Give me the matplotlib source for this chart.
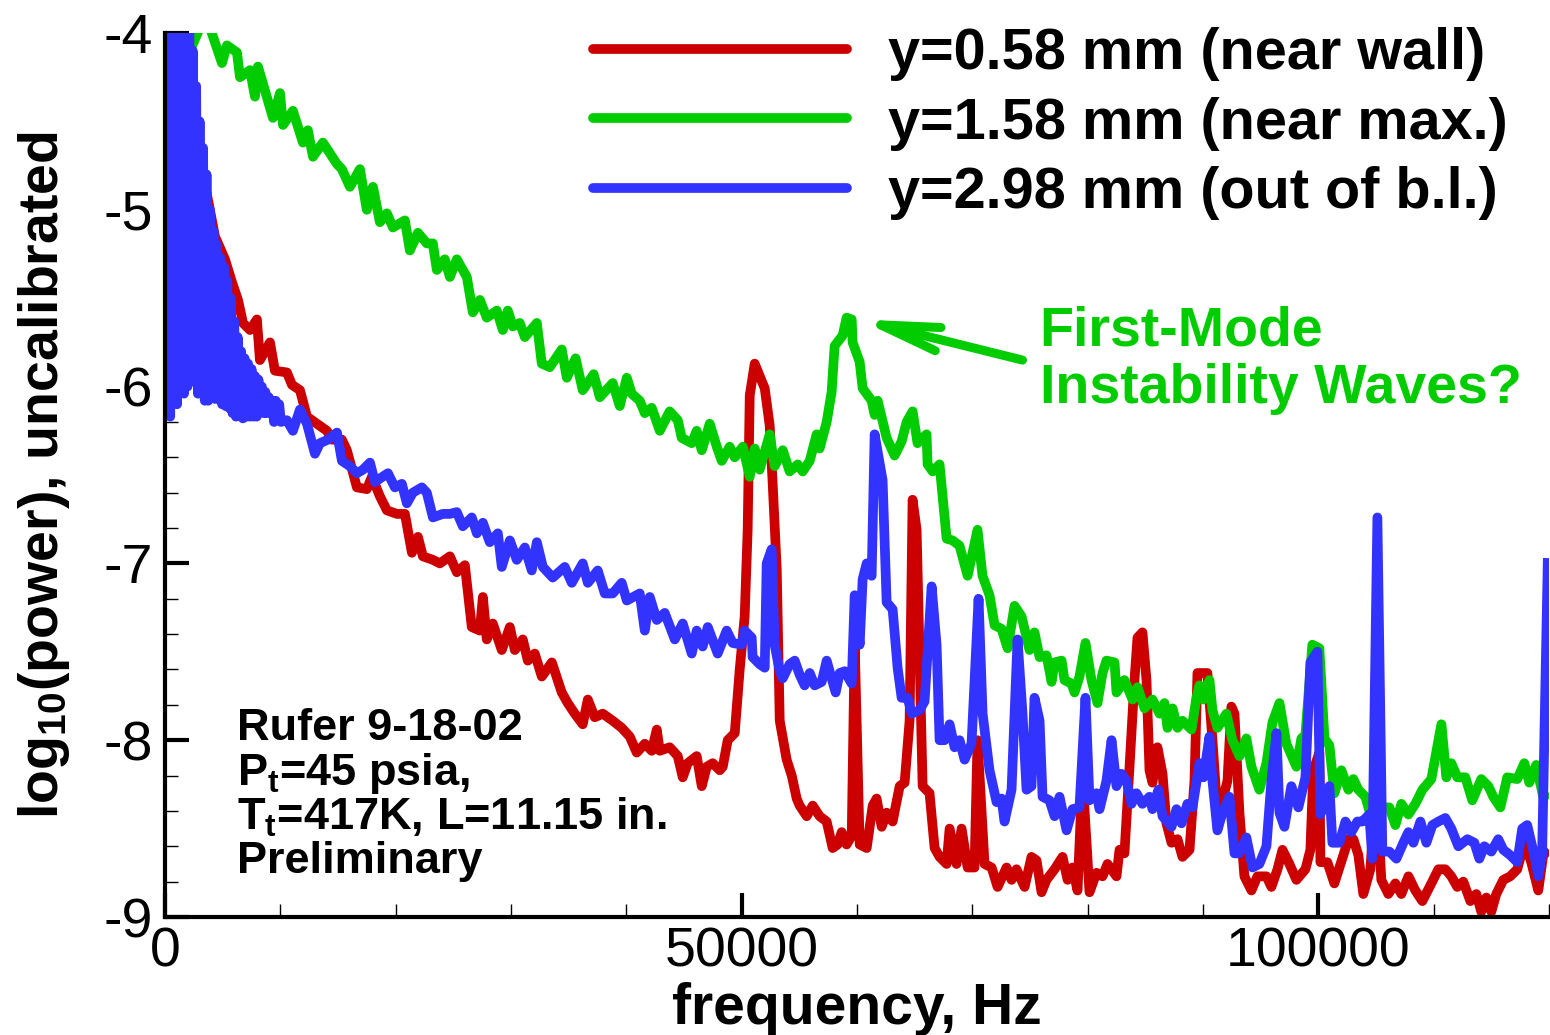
import matplotlib
matplotlib.use("Agg")
import matplotlib.pyplot as plt
from matplotlib.lines import Line2D
from matplotlib.ticker import MultipleLocator

plt.rcParams['font.family'] = ['Liberation Sans', 'DejaVu Sans']
plt.rcParams['axes.unicode_minus'] = False
plt.rcParams['mathtext.fontset'] = 'custom'
plt.rcParams['mathtext.bf'] = 'Liberation Sans:bold'
plt.rcParams['mathtext.rm'] = 'Liberation Sans:bold'
plt.rcParams['mathtext.default'] = 'bf'
plt.rcParams['path.simplify'] = False

RED = '#CC0000'
GREEN = '#00CC00'
BLUE = '#3333FF'

labels = ["y=0.58 mm (near wall)", "y=1.58 mm (near max.)", "y=2.98 mm (out of b.l.)"]

# ---- y = 0.58 mm (red) ----
red_f = [0, 600, 1200, 1800, 2400, 3000, 3600, 4330, 5200, 5810, 6330, 6760, 7370, 7970, 8230,
         9100, 9530, 10570, 11010, 11700, 12310, 13170, 14040, 14470, 15340, 15770, 16640, 17500,
         17940, 18630, 19240, 20110, 20800, 21410, 21930, 22360, 23230, 23830, 24700, 25300, 26000,
         26600, 27300, 27560, 27900, 28420, 29200, 29900, 30330, 31020, 31460, 32060, 32670, 33540,
         34400, 34920, 35530, 36220, 36660, 37260, 37960, 38820, 39600, 40300, 40900, 41600, 42200,
         42640, 42900, 43760, 44460, 44890, 45320, 46100, 46540, 46970, 47490, 48100, 48360, 48790,
         49400, 49830, 50260, 50520, 50700, 51130, 51560, 52000, 52430, 52690, 53040, 53300, 53900,
         54340, 54770, 55030, 55640, 56160, 56760, 57370, 57890, 58320, 58670, 59100, 59540, 59800,
         60230, 60840, 61360, 61700, 62140, 62570, 63090, 63700, 64130, 64560, 64820, 65170, 65690,
         66290, 66730, 67160, 67770, 68030, 68630, 69070, 69590, 70190, 70450, 71060, 71670, 72190,
         72970, 73400, 73830, 74530, 75130, 75570, 76000, 76430, 77130, 77820, 78260, 78690, 79120,
         79550, 80160, 80770, 81290, 81720, 82500, 82760, 83190, 83630, 84060, 84320, 84750, 85100,
         85360, 85620, 86050, 86490, 86830, 87270, 87790, 88220, 88830, 89260, 89520, 89950, 90380,
         90820, 91250, 91690, 92120, 92460, 92730, 93160, 93590, 94200, 94720, 95500, 95930, 96460,
         96890, 97490, 98100, 98880, 99310, 99570, 100090, 100180, 100780, 101390, 102170, 102610,
         103040, 103470, 103900, 104510, 105030, 105460, 106070, 106680, 107200, 107810, 108410,
         109020, 109800, 110410, 111010, 111530, 112050, 112570, 113180, 113700, 114130, 114570,
         115000, 115430, 116040, 116640, 117250, 117860, 118460, 119070, 119500, 120000]
red_v = [-4.4, -4.9, -4.6, -5.0, -4.7, -5.05, -4.9, -5.15, -5.28, -5.41, -5.51, -5.64, -5.68, -5.62, -5.85,
         -5.75, -5.91, -5.92, -5.99, -6.02, -6.17, -6.21, -6.25, -6.30, -6.30, -6.36, -6.57, -6.58,
         -6.51, -6.62, -6.70, -6.72, -6.72, -6.94, -6.85, -6.96, -6.98, -7.00, -6.96, -7.05, -7.01,
         -7.36, -7.38, -7.19, -7.43, -7.34, -7.49, -7.36, -7.49, -7.43, -7.55, -7.51, -7.64, -7.56,
         -7.73, -7.79, -7.85, -7.91, -7.77, -7.87, -7.85, -7.89, -7.93, -7.98, -8.07, -8.02, -8.06,
         -7.94, -8.06, -8.04, -8.09, -8.21, -8.13, -8.09, -8.26, -8.15, -8.13, -8.17, -8.15, -8.00,
         -7.96, -7.60, -7.30, -6.81, -6.05, -5.87, -5.94, -6.01, -6.22, -6.55, -7.03, -7.89, -8.11,
         -8.20, -8.33, -8.37, -8.43, -8.37, -8.43, -8.46, -8.61, -8.59, -8.52, -8.59, -8.54, -7.45,
         -8.59, -8.61, -8.37, -8.33, -8.49, -8.41, -8.46, -8.26, -8.24, -7.89, -6.64, -6.81, -8.26,
         -8.30, -8.61, -8.66, -8.70, -8.50, -8.70, -8.50, -8.72, -8.72, -8.00, -8.70, -8.72, -8.83,
         -8.72, -8.79, -8.73, -8.83, -8.66, -8.68, -8.86, -8.79, -8.73, -8.66, -8.79, -8.72, -8.85,
         -8.20, -8.86, -8.75, -8.77, -8.70, -8.77, -8.62, -8.64, -8.15, -7.66, -7.42, -7.39, -7.66,
         -8.17, -8.24, -8.04, -8.19, -8.47, -8.58, -8.56, -8.66, -8.62, -8.23, -7.62, -7.62, -7.62,
         -8.00, -8.41, -8.34, -8.23, -7.81, -7.85, -8.41, -8.77, -8.85, -8.77, -8.77, -8.83, -8.73,
         -8.62, -8.70, -8.79, -8.73, -8.62, -8.17, -8.07, -8.69, -8.69, -8.81, -8.65, -8.56,
         -8.56, -8.65, -8.87, -8.73, -8.24, -8.79, -8.87, -8.81, -8.87, -8.77, -8.85,
         -8.91, -8.81, -8.73, -8.73, -8.77, -8.83, -8.80, -8.91, -8.87, -8.97, -8.89,
         -8.97, -8.87, -8.79, -8.77, -8.73, -8.58, -8.69, -8.85, -8.65, -8.62]

# ---- y = 1.58 mm (green) ----
green_f = [0, 800, 1500, 2170, 2700, 3030, 3900, 4940, 5370, 6240, 6500, 7370, 7800, 8060, 9360, 9970,
           10230, 11090, 11960, 12390, 12830, 13690, 14900, 15340, 16030, 16900, 17500, 18030, 18630,
           19240, 19760, 20800, 21230, 21930, 22700, 23220, 23570, 24260, 24700, 25300, 26170, 26690,
           27300, 27900, 28770, 29290, 29720, 30160, 30760, 31200, 32240, 32670, 33360, 34400, 34840,
           35600, 36220, 37170, 37700, 38820, 39430, 40040, 40470, 41160, 41600, 42200, 42900, 43760,
           44460, 44800, 45670, 46100, 46540, 47230, 47840, 48270, 48960, 49400, 50100, 50700, 51130,
           51560, 52430, 52860, 53560, 54160, 54860, 55290, 55900, 56500, 56760, 57370, 57800, 58060,
           58760, 59100, 59540, 59620, 60230, 60490, 61270, 61530, 61790, 62570, 63260, 63870, 64300,
           64820, 65250, 66030, 66120, 66560, 67160, 67770, 68290, 68890, 69590, 70450, 70880, 71490,
           71930, 72530, 73060, 73660, 74270, 74960, 75390, 75830, 76430, 76870, 77130, 77740, 77990,
           78600, 78860, 79290, 79810, 80330, 80850, 81290, 81630, 82330, 82500, 83190, 83890, 84320,
           84930, 85620, 86230, 86660, 86920, 87360, 87790, 88220, 89000, 89430, 89690, 90040, 90560,
           90820, 91250, 92030, 92550, 93160, 93760, 94200, 94890, 95500, 96020, 96630, 97230, 98100,
           98530, 98880, 99480, 100090, 100530, 100960, 101390, 102000, 102610, 103040, 103470,
           104080, 104510, 105290, 106160, 106680, 107200, 107810, 108410, 109020, 109800, 110670,
           111100, 111530, 112050, 112750, 113350, 114130, 114740, 115170, 115780, 116380, 117250,
           117860, 118290, 118890, 119500, 120000]
green_v = [-4.35, -4.25, -4.2, -4.10, -4.02, -3.97, -3.97, -4.17, -4.07, -4.11, -4.25, -4.21, -4.36, -4.19,
           -4.48, -4.34, -4.52, -4.44, -4.62, -4.55, -4.70, -4.62, -4.74, -4.77, -4.87, -4.77, -5.00,
           -4.87, -5.07, -5.02, -5.10, -5.06, -5.23, -5.13, -5.19, -5.19, -5.34, -5.28, -5.38, -5.28,
           -5.38, -5.58, -5.51, -5.61, -5.57, -5.68, -5.57, -5.66, -5.64, -5.72, -5.64, -5.87, -5.89,
           -5.79, -5.95, -5.84, -6.02, -5.93, -6.06, -5.98, -6.11, -5.95, -6.04, -6.08, -6.15, -6.12,
           -6.25, -6.14, -6.19, -6.29, -6.32, -6.25, -6.36, -6.21, -6.34, -6.42, -6.34, -6.40, -6.34,
           -6.51, -6.35, -6.47, -6.27, -6.45, -6.36, -6.48, -6.44, -6.48, -6.42, -6.27, -6.35, -6.20,
           -6.03, -5.77, -5.71, -5.61, -5.62, -5.75, -5.86, -6.01, -6.08, -6.16, -6.08, -6.29, -6.39,
           -6.31, -6.20, -6.14, -6.32, -6.27, -6.44, -6.48, -6.44, -6.86, -6.87, -6.90, -7.07, -6.81,
           -7.07, -7.18, -7.35, -7.37, -7.48, -7.24, -7.30, -7.49, -7.39, -7.53, -7.52, -7.67, -7.56,
           -7.55, -7.66, -7.68, -7.73, -7.64, -7.45, -7.66, -7.79, -7.62, -7.55, -7.56, -7.73, -7.66,
           -7.77, -7.70, -7.82, -7.77, -7.85, -7.79, -7.93, -7.82, -7.93, -7.89, -7.94, -7.76, -7.69,
           -7.77, -7.66, -7.83, -7.93, -7.85, -8.00, -8.09, -7.99, -8.15, -8.28, -8.13, -7.90, -7.79,
           -8.02, -8.15, -7.99, -7.97, -7.46, -7.48, -7.99, -8.03, -8.30, -8.17, -8.28, -8.22, -8.28,
           -8.32, -8.42, -8.38, -8.38, -8.48, -8.36, -8.42, -8.36, -8.28, -8.22, -7.91, -8.21, -8.13,
           -8.21, -8.21, -8.34, -8.22, -8.26, -8.32, -8.38, -8.21, -8.22, -8.13, -8.24, -8.14, -8.32,
           -8.30]

# ---- y = 2.98 mm (blue) ----
blue_f = [0, 150, 300, 450, 600, 750, 900, 1050, 1200, 1350, 1500, 1650, 1800, 1950, 2100, 2250,
          2400, 2550, 2700, 2850, 3000, 3150, 3300, 3450, 3600, 3750, 3900, 4050, 4200, 4350, 4500,
          4650, 4800, 4950, 5100, 5250, 5400, 5550, 5700, 5850, 6000, 6150, 6300, 6450, 6600, 6750,
          6900, 7050, 7200, 7350, 7500, 7650, 7800, 7950, 8100, 8250, 8400, 8550, 8700, 8850, 9000,
          9150, 9300, 9450, 9600, 9750, 9900, 10050,
          10570, 11090, 11700, 12310, 13000, 13430, 14130, 14910, 15340,
          16030, 16640, 17160, 17770, 18200, 18630, 19330, 19930, 20540, 20970, 21490, 22270, 22700,
          23230, 24090, 24700, 25300, 25820, 26600, 27040, 27560, 28160, 28860, 29200, 29900, 30500,
          31200, 31800, 32240, 32760, 33620, 34660, 35270, 36220, 36660, 37520, 38130, 38820, 39600,
          40040, 41160, 41600, 42030, 42640, 43330, 44200, 44890, 45670, 46100, 46620, 47060, 47920,
          48700, 49220, 50000, 50260, 50870, 50950, 51560, 52000, 52170, 52600, 52860, 53300, 53560,
          54160, 54600, 55030, 55460, 55900, 56330, 56940, 57370, 57800, 58150, 58500, 58930, 59540,
          59800, 60230, 60490, 60840, 61270, 61530, 62220, 62570, 63090, 63520, 63870, 64390, 64740,
          65430, 65860, 66470, 66900, 67160, 67590, 68030, 68460, 68890, 69330, 69930, 70540, 70890,
          71490, 72100, 72530, 72790, 73400, 73920, 74350, 74700, 75130, 75390, 75830, 76090, 76690,
          77130, 77560, 78170, 78690, 79290, 79810, 80160, 80770, 81030, 81630, 82070, 82500, 82930,
          83370, 83800, 84230, 84750, 85360, 85620, 86140, 86490, 87270, 87700, 88140, 88650, 89090,
          89690, 90040, 90560, 90820, 91250, 91690, 92290, 92730, 93160, 93760, 94290, 94890, 95500,
          95930, 96370, 96630, 97060, 97660, 98270, 98880, 99310, 99920, 100180, 100960, 101220,
          101830, 102350, 102870, 103380, 103820, 104420, 104680, 105120, 105550, 106160, 106770,
          107370, 107810, 108240, 108850, 109370, 109890, 110410, 111010, 111530, 112140, 112920,
          113530, 113960, 114390, 115000, 115600, 116040, 116640, 117250, 117680, 118110, 118720,
          119070, 119400, 119900]
blue_v = [-3.8, -6.10, -3.8, -6.17, -3.8, -6.08, -3.8, -6.10, -3.8, -6.00, -3.8, -6.04, -3.8, -6.00,
          -3.8, -5.97, -4.10, -5.96, -4.30, -6.04, -4.50, -6.04, -4.65, -6.08, -4.80, -6.08, -5.00,
          -6.06, -5.12, -6.07, -5.20, -6.07, -5.27, -6.10, -5.32, -6.11, -5.40, -6.12, -5.50, -6.15,
          -5.63, -6.17, -5.72, -6.14, -5.80, -6.18, -5.84, -6.17, -5.87, -6.17, -5.90, -6.17, -5.94,
          -6.17, -5.96, -6.12, -6.00, -6.15, -6.03, -6.15, -6.06, -6.12, -6.08, -6.20, -6.08, -6.18,
          -6.10, -6.20,
          -6.19, -6.25, -6.13, -6.21, -6.38, -6.32, -6.30, -6.26, -6.42, -6.45, -6.49, -6.47, -6.43,
          -6.54, -6.52, -6.49, -6.57, -6.55, -6.66, -6.60, -6.57, -6.60, -6.74, -6.72, -6.72, -6.71,
          -6.79, -6.74, -6.83, -6.77, -6.88, -6.83, -7.02, -6.87, -6.98, -6.91, -7.04, -6.88, -7.02,
          -7.08, -7.02, -7.11, -7.00, -7.11, -7.04, -7.17, -7.17, -7.11, -7.21, -7.17, -7.38, -7.19,
          -7.32, -7.28, -7.43, -7.34, -7.51, -7.38, -7.47, -7.36, -7.51, -7.38, -7.45, -7.46, -7.38,
          -7.42, -7.53, -7.57, -7.59, -7.00, -6.92, -7.46, -7.61, -7.65, -7.57, -7.55, -7.63, -7.69,
          -7.62, -7.69, -7.67, -7.55, -7.65, -7.73, -7.62, -7.61, -7.68, -7.18, -7.46, -7.09, -7.00,
          -7.07, -6.27, -6.53, -7.22, -7.26, -7.59, -7.76, -7.76, -7.85, -7.83, -7.78, -7.13, -7.46,
          -8.00, -8.00, -7.91, -8.04, -8.00, -8.11, -8.02, -7.20, -7.85, -8.17, -8.35, -8.33, -8.46,
          -8.28, -7.43, -7.85, -8.28, -8.26, -7.76, -7.89, -8.32, -8.34, -8.43, -8.32, -8.51, -8.39,
          -8.38, -7.76, -8.34, -8.30, -8.39, -8.23, -8.00, -8.26, -8.19, -8.23, -8.36, -8.30, -8.36,
          -8.32, -8.39, -8.28, -8.43, -8.49, -8.39, -8.47, -8.36, -8.38, -8.13, -8.21, -7.98, -8.23,
          -8.51, -8.41, -8.32, -8.64, -8.64, -8.55, -8.72, -8.70, -8.60, -8.23, -7.96, -8.41, -8.49,
          -8.26, -8.38, -8.21, -7.56, -7.50, -8.42, -8.26, -8.58, -8.58, -8.46, -8.52, -8.46, -8.46,
          -8.42, -8.67, -6.74, -8.63, -8.63, -8.67, -8.58, -8.52, -8.58, -8.46, -8.58, -8.48, -8.46,
          -8.44, -8.50, -8.60, -8.56, -8.58, -8.67, -8.60, -8.63, -8.56, -8.62, -8.65, -8.69, -8.50,
          -8.48, -8.65, -8.77, -8.65, -6.97]

x_ticks = [0, 50000, 100000]
x_ticklabels = ["0", "50000", "100000"]
y_ticks = [-9, -8, -7, -6, -5, -4]
y_ticklabels = ["-9", "-8", "-7", "-6", "-5", "-4"]

fig = plt.figure(figsize=(15.5, 10.35), dpi=100)
ax = fig.add_axes([165/1550, 1-917/1035, (1549-165)/1550, (917-33)/1035])

lw = 7.0
kw = dict(lw=lw, solid_joinstyle='round', solid_capstyle='butt')
ax.plot(red_f, red_v, color=RED, **kw)
ax.plot(green_f, green_v, color=GREEN, **kw)
ax.plot(blue_f, blue_v, color=BLUE, **kw)

ax.set_xlim(0, 120000)
ax.set_ylim(-9, -4)
ax.set_xticks(x_ticks, x_ticklabels)
ax.set_yticks(y_ticks, y_ticklabels)
ax.xaxis.set_minor_locator(MultipleLocator(10000))
ax.yaxis.set_minor_locator(MultipleLocator(0.2))
for s in ['top', 'right']:
    ax.spines[s].set_visible(False)
for s in ['left', 'bottom']:
    ax.spines[s].set_linewidth(3)
    ax.spines[s].set_zorder(5)
ax.tick_params(which='major', direction='in', length=17, width=3, labelsize=40)
ax.tick_params(which='minor', direction='in', length=9.5, width=1)
ax.tick_params(axis='x', which='major', pad=7)
ax.tick_params(axis='y', which='major', pad=9)

ax.set_xlabel("frequency, Hz", fontsize=41, fontweight='bold')
ax.set_ylabel("log$_{10}$(power), uncalibrated", fontsize=40, fontweight='bold')
ax.xaxis.set_label_coords(0.5, -0.073)
ax.yaxis.set_label_coords(-0.067, 0.5)

handles = [Line2D([], [], color=c, lw=lw, solid_capstyle='round') for c in (RED, GREEN, BLUE)]
fig.legend(handles, labels, loc='upper left', bbox_to_anchor=(593/1550, 1-27/1035),
           frameon=False, borderpad=0, borderaxespad=0, handlelength=4.4,
           handletextpad=0.72, labelspacing=0.27,
           prop={'family': 'Liberation Sans', 'weight': 'bold', 'size': 41.5})

# annotation
ax.annotate("", xy=(60150, -5.62), xytext=(74350, -5.85),
            arrowprops=dict(arrowstyle='->,head_length=4.25,head_width=0.86', lw=6.5,
                            color=GREEN, mutation_scale=10, shrinkA=0, shrinkB=0,
                            capstyle='round', joinstyle='round'))
ax.text(0.632, 0.647, "First-Mode", transform=ax.transAxes, color=GREEN, fontsize=40,
        fontweight='bold', ha='left', va='baseline')
ax.text(0.632, 0.5814, "Instability Waves?", transform=ax.transAxes, color=GREEN, fontsize=40,
        fontweight='bold', ha='left', va='baseline')

info_lines = ["Rufer 9-18-02", "P$_t$=45 psia,", "T$_t$=417K, L=11.15 in.", "Preliminary"]
info_y = [0.2002, 0.1493, 0.0984, 0.0498]
for t, yy in zip(info_lines, info_y):
    ax.text(0.052, yy, t, transform=ax.transAxes, fontsize=32.5, fontweight='bold',
            ha='left', va='baseline', color='black')

fig.savefig("out.png", dpi=100)
